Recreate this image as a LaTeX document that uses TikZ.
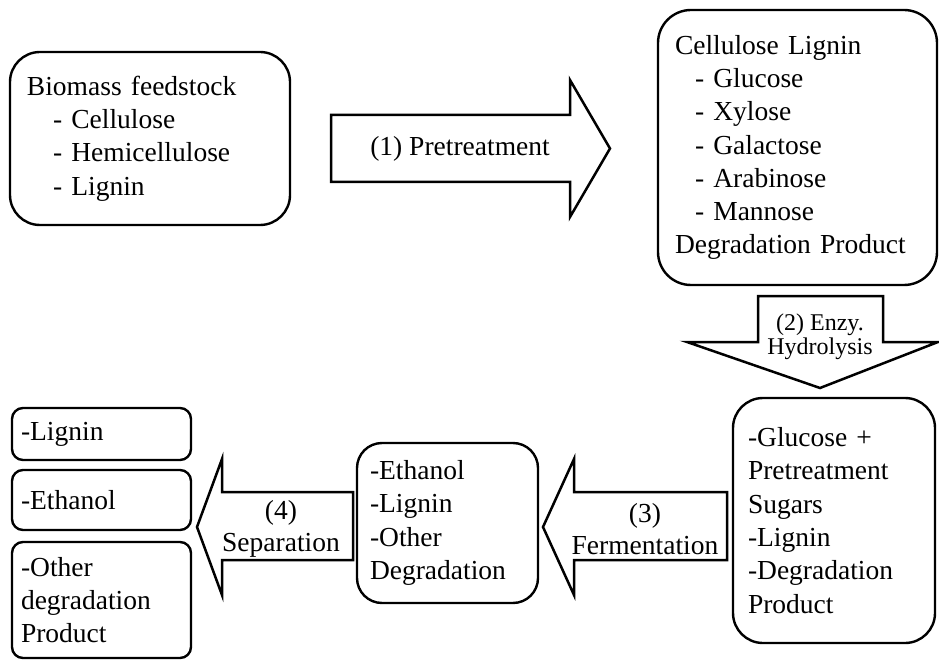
\documentclass[tikz,border=0pt]{standalone}
\usepackage{fontspec}
\setmainfont{Liberation Serif}

\tikzset{
  box/.style={draw, line width=2.4pt, rounded corners=28pt, align=left, inner ysep=0pt,
    font=\fontsize{27.5}{33.3}\selectfont},
  smallbox/.style={box, rounded corners=11pt, minimum width=179pt, inner xsep=9pt, text width=161pt},
  blockarrow/.style={draw, line width=2.5pt, line join=miter, fill=white},
  steplabel/.style={align=center, inner sep=0pt, font=\fontsize{27.5}{32}\selectfont}
}

\begin{document}
\begin{tikzpicture}[x=1pt,y=-1pt]
\useasboundingbox (0,0) rectangle (939,660);

% boxes
\begin{scope}[every node/.style={box}]
  \node[rounded corners=30pt, minimum width=280pt, minimum height=173pt, inner xsep=17pt, text width=246pt] (feed) at (150,138.5)
    {Biomass feedstock\\ \hspace*{26pt}- Cellulose\\ \hspace*{26pt}- Hemicellulose\\ \hspace*{26pt}- Lignin};
  \node[rounded corners=33pt, minimum width=279pt, minimum height=275pt, inner xsep=17pt, text width=245pt] (hydro) at (797.5,147.5)
    {Cellulose Lignin\\ \hspace*{20pt}- Glucose\\ \hspace*{20pt}- Xylose\\ \hspace*{20pt}- Galactose\\
     \hspace*{20pt}- Arabinose\\ \hspace*{20pt}- Mannose\\ Degradation Product};
  \node[rounded corners=30pt, minimum width=202pt, minimum height=245pt, inner xsep=15pt, text width=172pt] (sugars) at (834,520.5)
    {-Glucose +\\ Pretreatment\\ Sugars\\ -Lignin\\ -Degradation\\ Product};
  \node[rounded corners=25pt, minimum width=181pt, minimum height=160pt, inner xsep=13pt, text width=155pt] (broth) at (447.5,523)
    {-Ethanol\\ -Lignin\\ -Other\\ Degradation};
  \node[smallbox, minimum height=52pt] (lig) at (101.5,434) {-Lignin};
  \node[smallbox, minimum height=60pt] (eth) at (101.5,500) {-Ethanol};
  \node[smallbox, minimum height=116pt] (oth) at (101.5,600) {-Other\\ degradation\\ Product};
\end{scope}

% block arrows
\draw[blockarrow] (331,115) -- (570,115) -- (570,80) -- (610,148.5) -- (570,217) -- (570,182) -- (331,182) -- cycle;
\draw[blockarrow] (758,296) -- (883,296) -- (883,342) -- (938,342) -- (820,388) -- (687,342) -- (758,342) -- cycle;
\draw[blockarrow] (727,492) -- (727,560) -- (574,560) -- (574,595) -- (543,527) -- (574,459) -- (574,492) -- cycle;
\draw[blockarrow] (353,492) -- (353,560) -- (222,560) -- (222,595) -- (197,527) -- (222,459) -- (222,492) -- cycle;

\begin{scope}[every node/.style={steplabel}]
  \node (pretreat) at (460,149) {(1) Pretreatment};
  \node[font=\fontsize{24}{23.5}\selectfont] (enzy) at (820,337) {(2) Enzy.\\Hydrolysis};
  \node (ferment) at (645,529) {(3)\\Fermentation};
  \node (separate) at (281,529) {(4)\\Separation};
\end{scope}

\end{tikzpicture}
\end{document}
